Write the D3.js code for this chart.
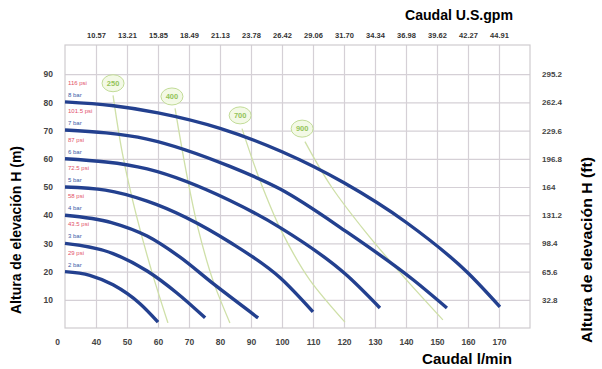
<!DOCTYPE html>
<html><head><meta charset="utf-8">
<script src="https://cdn.jsdelivr.net/npm/d3@7"></script>
<style>html,body{margin:0;padding:0;background:#fff}svg{display:block}</style>
</head><body>
<svg id="chart" width="602" height="369"></svg>
<script>
// ---- data ----
const flowTicks = [30, 40, 50, 60, 70, 80, 90, 100, 110, 120, 130, 140, 150, 160, 170, 180];
const flowTickLabels = ["0", "40", "50", "60", "70", "80", "90", "100", "110", "120", "130", "140", "150", "160", "170", ""];
const gpmTicks = [40, 50, 60, 70, 80, 90, 100, 110, 120, 130, 140, 150, 160, 170];
const gpmLabels = ["10.57", "13.21", "15.85", "18.49", "21.13", "23.78", "26.42", "29.06", "31.70", "34.34", "36.98", "39.62", "42.27", "44.91"];
const headTicks = [10, 20, 30, 40, 50, 60, 70, 80, 90];
const headLabels = ["10", "20", "30", "40", "50", "60", "70", "80", "90"];
const feetLabels = ["32.8", "65.6", "98.4", "131.2", "164", "196.8", "229.6", "262.4", "295.2"];

const barLabels = ["2 bar", "3 bar", "4 bar", "5 bar", "6 bar", "7 bar", "8 bar"];
const psiLabels = ["29 psi", "43.5 psi", "58 psi", "72.5 psi", "87 psi", "101.5 psi", "116 psi"];

// pump curves: [flow l/min, head m]
const curve2bar = [[30, 20], [38, 18.7], [45.5, 15.3], [54.2, 8.6], [60, 2.1]];
const curve3bar = [[30, 30], [45.5, 26.4], [56.5, 20.2], [66, 12.5], [75.2, 3.6]];
const curve4bar = [[30, 40], [45, 37.4], [56.5, 32.6], [67, 25.2], [77.7, 15.8], [92.3, 3.6]];
const curve5bar = [[30, 50], [43, 48.9], [56.5, 45], [83.2, 30.4], [99.4, 17.8], [110, 5.7]];
const curve6bar = [[30, 60], [56.5, 56.4], [83.2, 45.2], [99.4, 35.6], [121, 18.6], [131.6, 7.1]];
const curve7bar = [[30, 70.2], [56.5, 67], [83.2, 57.3], [99.4, 49.3], [121, 34], [142.3, 17.1], [153.2, 7.1]];
const curve8bar = [[30, 80.2], [45, 78.9], [60, 76.3], [80, 70.8], [100, 62.5], [120, 51.5], [140, 37.5], [160, 19.5], [170.3, 7.5]];
const pumpCurves = [curve2bar, curve3bar, curve4bar, curve5bar, curve6bar, curve7bar, curve8bar];

// air consumption lines
const airLabels = ["250", "400", "700", "900"];
const airBubbles = [[45.5, 86.8], [64.5, 82.1], [86.5, 75.4], [106.5, 70.7]];
const air250 = [[45.5, 82.5], [48.5, 62], [53, 40], [58, 20], [63.2, 1.8]];
const air400 = [[65.5, 77.9], [69, 56], [73, 35], [78, 16], [83.2, 1.8]];
const air700 = [[87.1, 70.7], [93, 52], [100, 34], [109, 17], [120.3, 2.1]];
const air900 = [[107.4, 66.1], [116, 50], [127, 34], [139, 18.5], [151.9, 2.9]];
const airLines = [air250, air400, air700, air900];

// ---- drawing ----
const svg = d3.select("#chart");
const pL = 65, pR = 530, pT = 45, pB = 328;
const x = d3.scaleLinear().domain([30, 180]).range([pL, pR]);
const y = d3.scaleLinear().domain([0, 100]).range([pB, pT + 1]);

const gridColor = "#d5d0d6";
const tickFont = "'Liberation Sans', Arial, sans-serif";

// grid
const g = svg.append("g");
g.append("g").attr("transform", `translate(0,${pB})`)
  .call(d3.axisBottom(x).tickValues(flowTicks.slice(1, -1)).tickSize(-(pB - pT)).tickFormat(""))
  .call(a => a.select(".domain").remove())
  .call(a => a.selectAll("line").attr("stroke", gridColor).attr("stroke-width", 1.2));
g.append("g").attr("transform", `translate(${pL},0)`)
  .call(d3.axisLeft(y).tickValues(headTicks).tickSize(-(pR - pL)).tickFormat(""))
  .call(a => a.select(".domain").remove())
  .call(a => a.selectAll("line").attr("stroke", gridColor).attr("stroke-width", 1.2));
g.append("rect").attr("x", pL).attr("y", pT).attr("width", pR - pL).attr("height", pB - pT)
  .attr("fill", "none").attr("stroke", "#cfcccf").attr("stroke-width", 1.2);

// air lines
const line = d3.line().x(d => x(d[0])).y(d => y(d[1])).curve(d3.curveMonotoneX);
const airLine = d3.line().x(d => x(d[0])).y(d => y(d[1])).curve(d3.curveMonotoneY);
svg.append("g").selectAll("path").data(airLines).join("path")
  .attr("d", airLine).attr("fill", "none").attr("stroke", "#cfe0a8").attr("stroke-width", 1.3);

const bub = svg.append("g").selectAll("g").data(airBubbles).join("g")
  .attr("transform", d => `translate(${x(d[0])},${y(d[1])})`);
bub.append("ellipse").attr("rx", 11).attr("ry", 8.5).attr("fill", "#f3f9e6").attr("stroke", "#c2dc98").attr("stroke-width", 1);
bub.append("text").text((d, i) => airLabels[i]).attr("text-anchor", "middle").attr("dy", "0.35em")
  .attr("font-family", tickFont).attr("font-size", 7.5).attr("fill", "#94c45a").attr("font-weight", "bold");

// pump curves
svg.append("g").selectAll("path").data(pumpCurves).join("path")
  .attr("d", line).attr("fill", "none").attr("stroke", "#23408f").attr("stroke-width", 3.4)
  .attr("stroke-linecap", "butt");

// curve labels
const lab = svg.append("g").attr("font-family", tickFont).attr("font-size", 6);
lab.selectAll("text.psi").data(pumpCurves).join("text").attr("class", "psi")
  .attr("x", pL + 3).attr("y", d => y(d[0][1]) - 17).text((d, i) => psiLabels[i]).attr("fill", "#e2506a");
lab.selectAll("text.bar").data(pumpCurves).join("text").attr("class", "bar")
  .attr("x", pL + 3).attr("y", d => y(d[0][1]) - 5).text((d, i) => barLabels[i]).attr("fill", "#3a5aa8");

// bottom axis labels
const axB = svg.append("g").attr("transform", `translate(0,${pB})`)
  .call(d3.axisBottom(x).tickValues(flowTicks).tickSize(0).tickPadding(11).tickFormat((d, i) => flowTickLabels[i]));
axB.select(".domain").remove();
axB.selectAll("text").attr("font-family", tickFont).attr("font-size", 8.5).attr("font-weight", "bold").attr("fill", "#444")
  .attr("dx", (d, i) => i === 0 ? -8 : 0);

// top axis labels
const axT = svg.append("g").attr("transform", `translate(0,${pT})`)
  .call(d3.axisTop(x).tickValues(gpmTicks).tickSize(0).tickPadding(7).tickFormat((d, i) => gpmLabels[i]));
axT.select(".domain").remove();
axT.selectAll("text").attr("font-family", tickFont).attr("font-size", 7.5).attr("font-weight", "bold").attr("fill", "#333");

// left axis labels
const axL = svg.append("g").attr("transform", `translate(${pL},0)`)
  .call(d3.axisLeft(y).tickValues(headTicks).tickSize(0).tickPadding(12).tickFormat((d, i) => headLabels[i]));
axL.select(".domain").remove();
axL.selectAll("text").attr("font-family", tickFont).attr("font-size", 8.5).attr("font-weight", "bold").attr("fill", "#444");

// right axis labels
const axR = svg.append("g").attr("transform", `translate(${pR},0)`)
  .call(d3.axisRight(y).tickValues(headTicks).tickSize(0).tickPadding(12).tickFormat((d, i) => feetLabels[i]));
axR.select(".domain").remove();
axR.selectAll("text").attr("font-family", tickFont).attr("font-size", 8).attr("font-weight", "bold").attr("fill", "#444");

// titles
const titleFont = "'Liberation Sans', Arial, sans-serif";
svg.append("text").attr("x", 459).attr("y", 20).attr("text-anchor", "middle")
  .attr("textLength", 108).attr("lengthAdjust", "spacingAndGlyphs")
  .attr("font-family", titleFont).attr("font-weight", "bold").attr("font-size", 15).text("Caudal U.S.gpm");
svg.append("text").attr("x", 467).attr("y", 364).attr("text-anchor", "middle")
  .attr("textLength", 90).attr("lengthAdjust", "spacingAndGlyphs")
  .attr("font-family", titleFont).attr("font-weight", "bold").attr("font-size", 14).text("Caudal l/min");
svg.append("text").attr("transform", "translate(21,230) rotate(-90)").attr("text-anchor", "middle")
  .attr("textLength", 168).attr("lengthAdjust", "spacingAndGlyphs")
  .attr("font-family", titleFont).attr("font-weight", "bold").attr("font-size", 14).text("Altura de elevación H (m)");
svg.append("text").attr("transform", "translate(592,250) rotate(-90)").attr("text-anchor", "middle")
  .attr("textLength", 186).attr("lengthAdjust", "spacingAndGlyphs")
  .attr("font-family", titleFont).attr("font-weight", "bold").attr("font-size", 14).text("Altura de elevación H (ft)");
</script>
</body></html>
